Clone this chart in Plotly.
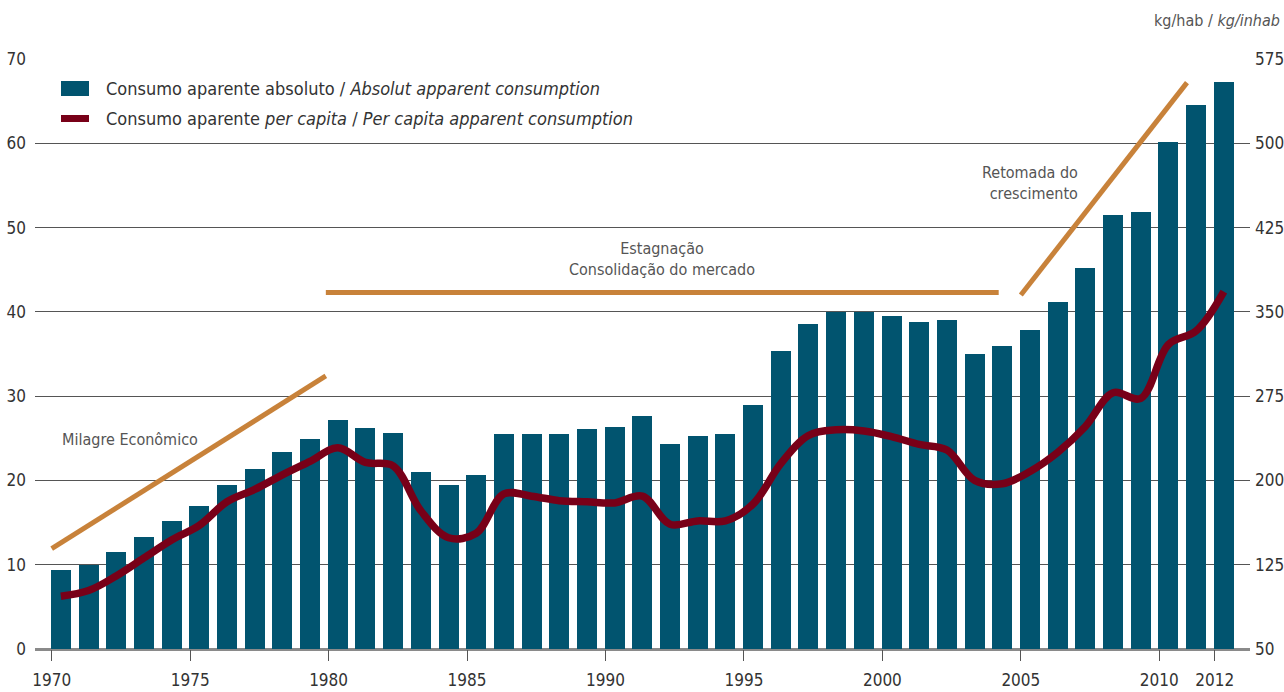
import plotly.graph_objects as go

# ---- data ----
years = list(range(1970, 2013))
absolute = [9.4, 10.0, 11.5, 13.3, 15.2, 17.0, 19.5, 21.3, 23.4, 24.9,
            27.2, 26.2, 25.6, 21.0, 19.5, 20.6, 25.5, 25.5, 25.5, 26.1,
            26.3, 27.6, 24.3, 25.3, 25.5, 28.9, 35.3, 38.6, 40.0, 40.0,
            39.5, 38.8, 39.0, 35.0, 36.0, 37.9, 41.2, 45.2, 51.5, 51.9,
            60.1, 64.6, 67.3]
per_capita = [97, 102, 115, 131, 147, 160, 181, 192, 205, 217,
              229, 216, 213, 173, 149, 153, 188, 186, 182, 181,
              180, 186, 161, 164, 164, 179, 215, 240, 245, 244,
              239, 232, 227, 200, 197, 208, 225, 248, 278, 273,
              321, 333, 368]

left_ticks = [0, 10, 20, 30, 40, 50, 60, 70]
right_ticks = [50, 125, 200, 275, 350, 425, 500, 575]
x_ticks = [1970, 1975, 1980, 1985, 1990, 1995, 2000, 2005, 2010, 2012]

# trend segments (year, left-axis value)
trend1_x = [1970.0, 1979.9]
trend1_y = [11.9, 32.4]
trend2_x = [1979.9, 2004.2]
trend2_y = [42.3, 42.3]
trend3_x = [2005.0, 2011.0]
trend3_y = [42.0, 67.2]

# ---- style ----
BAR = "#01546F"
LINE = "#780018"
ORANGE = "#C8823A"
FONT = "Liberation Sans Narrow, DejaVu Sans Condensed, Open Sans, sans-serif"
TXT = "#333333"
TICK_SIZE = 17

BAR_W = 0.722
BAR_OFF = -0.03

fig = go.Figure()

fig.add_trace(go.Bar(
    x=years, y=absolute, width=BAR_W, offset=BAR_OFF,
    marker=dict(color=BAR, line=dict(width=0)),
    name="Consumo aparente absoluto / <i>Absolut apparent consumption</i>",
    showlegend=False, yaxis="y"))

for tx, ty in [(trend1_x, trend1_y), (trend2_x, trend2_y), (trend3_x, trend3_y)]:
    fig.add_trace(go.Scatter(x=tx, y=ty, mode="lines",
                             line=dict(color=ORANGE, width=5),
                             showlegend=False, hoverinfo="skip", yaxis="y"))

fig.add_trace(go.Scatter(
    x=[y + BAR_OFF + BAR_W / 2 for y in years], y=per_capita, mode="lines",
    line=dict(color=LINE, width=7.5, shape="spline", smoothing=1.0),
    name="Consumo aparente <i>per capita</i> / <i>Per capita apparent consumption</i>",
    showlegend=False, yaxis="y2"))

# ---- custom legend ----
L, R, T, B = 35, 34, 59, 43
PW, PH = 1284 - L - R, 692 - T - B
def px(x):
    return (x - L) / PW
def py(y):
    return (692 - B - y) / PH

fig.add_shape(type="rect", xref="paper", yref="paper",
              x0=px(61), x1=px(89), y0=py(96), y1=py(81),
              fillcolor=BAR, line=dict(width=0))
fig.add_shape(type="line", xref="paper", yref="paper",
              x0=px(61), x1=px(89), y0=py(118.5), y1=py(118.5),
              line=dict(color=LINE, width=7))
fig.add_annotation(xref="paper", yref="paper", x=px(104), y=py(89),
                   xanchor="left", yanchor="middle", showarrow=False,
                   text="Consumo aparente absoluto / <i>Absolut apparent consumption</i>",
                   font=dict(family=FONT, size=18, color=TXT))
fig.add_annotation(xref="paper", yref="paper", x=px(104), y=py(119),
                   xanchor="left", yanchor="middle", showarrow=False,
                   text="Consumo aparente <i>per capita</i> / <i>Per capita apparent consumption</i>",
                   font=dict(family=FONT, size=18, color=TXT))

# ---- text annotations ----
ANN = dict(family=FONT, size=16, color="#555555")
fig.add_annotation(x=1970.3, y=24.9, xref="x", yref="y", text="Milagre Econômico",
                   xanchor="left", yanchor="middle", showarrow=False, font=ANN)
fig.add_annotation(x=1992.04, y=46.25, xref="x", yref="y",
                   text="Estagnação<br>Consolidação do mercado", align="center",
                   xanchor="center", yanchor="middle", showarrow=False, font=ANN)
fig.add_annotation(x=2007.14, y=55.3, xref="x", yref="y",
                   text="Retomada do<br>crescimento", align="right",
                   xanchor="right", yanchor="middle", showarrow=False, font=ANN)
fig.add_annotation(xref="paper", yref="paper", x=px(1282), y=py(20),
                   text="kg/hab / <i>kg/inhab</i>", xanchor="right", yanchor="middle",
                   showarrow=False, font=ANN)

fig.update_layout(
    width=1284, height=692,
    margin=dict(l=L, r=R, t=T, b=B, pad=0, autoexpand=False),
    paper_bgcolor="white", plot_bgcolor="white",
    bargap=0,
    font=dict(family=FONT, size=TICK_SIZE, color=TXT),
    xaxis=dict(range=[1969.397, 2013.276], tickvals=x_ticks,
               ticktext=[str(v) for v in x_ticks], automargin=False,
               ticks="outside", ticklen=11, tickwidth=1, tickcolor="#555555",
               ticklabelstandoff=5,
               showgrid=False, zeroline=False, showline=False,
               tickfont=dict(family=FONT, size=TICK_SIZE, color=TXT)),
    yaxis=dict(range=[0, 70], tickvals=left_ticks, showgrid=True, automargin=False,
               gridcolor="#555555", gridwidth=1, zeroline=True,
               zerolinecolor="#8a8a8a", zerolinewidth=2.5,
               ticks="", ticklabelstandoff=8,
               tickfont=dict(family=FONT, size=TICK_SIZE, color=TXT)),
    yaxis2=dict(range=[50, 575], tickvals=right_ticks, overlaying="y",
                side="right", showgrid=False, zeroline=False, ticks="",
                ticklabelstandoff=4, automargin=False,
                tickfont=dict(family=FONT, size=TICK_SIZE, color=TXT)),
)

fig.write_html("out.html",
               config={"displayModeBar": False},
               post_script="document.body.style.margin='0';document.body.style.overflow='hidden';")
